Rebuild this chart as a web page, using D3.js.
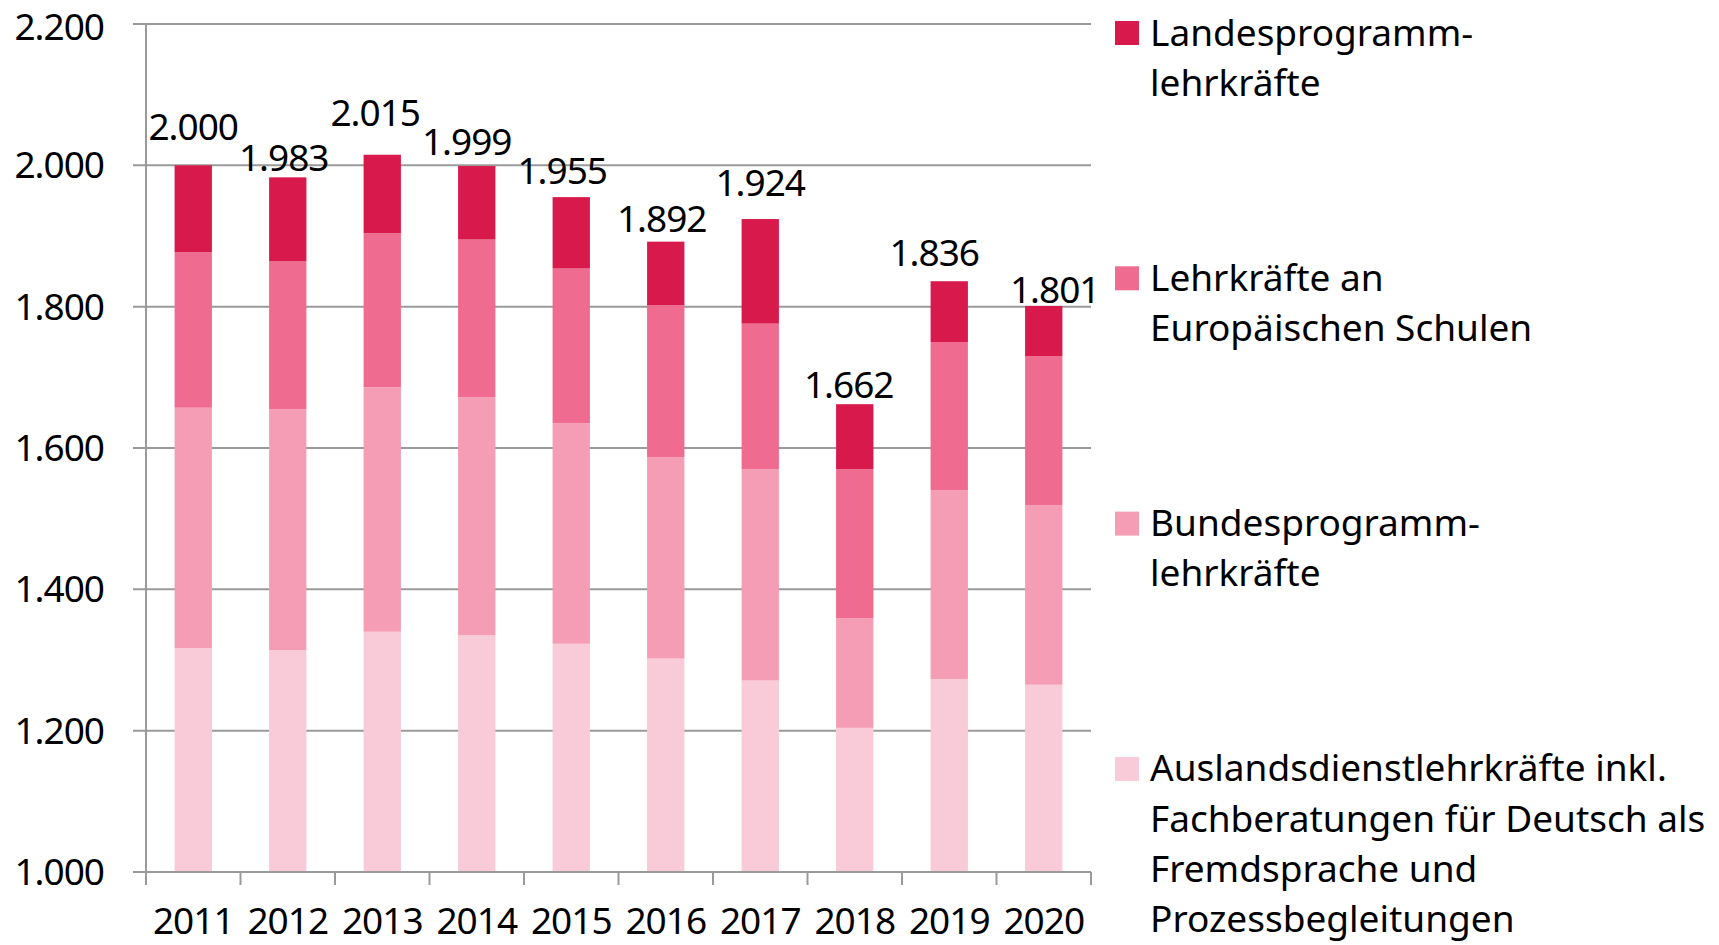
<!DOCTYPE html>
<html lang="de">
<head>
  <meta charset="UTF-8">
  <title>Lehrkräfte im Auslandsschulwesen 2011-2020</title>
  <script src="https://d3js.org/d3.v7.min.js"></script>
  <style>
    body { margin: 0; background: #fff; }
    text { font-family: "Noto Sans", sans-serif; fill: #000; }
  </style>
</head>
<body>
<script>
  // categories and series (stacked bottom to top)
  const years = ['2011', '2012', '2013', '2014', '2015', '2016', '2017', '2018', '2019', '2020'];
  const auslandsdienst = [1317, 1314, 1340, 1335, 1323, 1302, 1271, 1204, 1273, 1265];
  const bundesprogramm = [340, 341, 346, 337, 312, 285, 299, 155, 267, 254];
  const europaeisch = [220, 209, 218, 223, 219, 215, 206, 211, 210, 211];
  const landesprogramm = [123, 119, 111, 104, 101, 90, 148, 92, 86, 71];
  const totals = [2000, 1983, 2015, 1999, 1955, 1892, 1924, 1662, 1836, 1801];
  const yTicks = [1000, 1200, 1400, 1600, 1800, 2000, 2200];

  // hand placement of the total labels, as in the original (px)
  const labelDx = [0, -4, -7, -10, -9, -4, 0, -6, -15, 11];
  const labelGap = [25, 6, 29, 11, 13, 10, 23, 6, 15, 3];

  const keys = ['ausland', 'bundes', 'europa', 'landes'];
  const colors = {
    ausland: '#f9cad8',
    bundes: '#f59db5',
    europa: '#ef6b8f',
    landes: '#d8194c'
  };
  const legendLines = {
    landes: ['Landesprogramm-', 'lehrkräfte'],
    europa: ['Lehrkräfte an', 'Europäischen Schulen'],
    bundes: ['Bundesprogramm-', 'lehrkräfte'],
    ausland: ['Auslandsdienstlehrkräfte inkl.', 'Fachberatungen für Deutsch als', 'Fremdsprache und', 'Prozessbegleitungen']
  };

  const table = years.map((yr, i) => ({
    year: yr,
    ausland: auslandsdienst[i],
    bundes: bundesprogramm[i],
    europa: europaeisch[i],
    landes: landesprogramm[i],
    total: totals[i]
  }));

  const width = 1719;
  const height = 945;
  const plotLeft = 146;
  const plotRight = 1091;
  const plotTop = 24;
  const plotBottom = 872;

  const svg = d3.select('body')
    .append('svg')
    .attr('width', width)
    .attr('height', height);

  const x = d3.scaleBand()
    .domain(years)
    .range([plotLeft, plotRight])
    .paddingInner(0.605)
    .paddingOuter(0.3025);

  const y = d3.scaleLinear()
    .domain([1000, 2200])
    .range([plotBottom, plotTop])
    .clamp(true);

  const fmt = v => d3.format(',')(v).replace(',', '.');

  // gridlines
  svg.append('g')
    .selectAll('line')
    .data(yTicks)
    .join('line')
    .attr('x1', plotLeft - 13)
    .attr('x2', plotRight)
    .attr('y1', d => y(d))
    .attr('y2', d => y(d))
    .attr('stroke', '#9a9a9a')
    .attr('stroke-width', 2);

  // y labels (top one kept inside the page)
  svg.append('g')
    .selectAll('text')
    .data(yTicks)
    .join('text')
    .attr('x', 104)
    .attr('y', d => Math.max(y(d) + 13, 40))
    .attr('text-anchor', 'end')
    .style('font-size', '37px')
    .style('letter-spacing', '-1px')
    .text(d => fmt(d));

  // stacked bars
  const stack = d3.stack().keys(keys);
  const series = stack(table);

  svg.append('g')
    .selectAll('g')
    .data(series)
    .join('g')
    .attr('fill', d => colors[d.key])
    .selectAll('rect')
    .data(d => d)
    .join('rect')
    .attr('x', d => x(d.data.year))
    .attr('width', x.bandwidth())
    .attr('y', d => y(d[1]))
    .attr('height', d => y(d[0]) - y(d[1]));

  // axis lines and ticks
  const step = x.step();
  const boundaries = d3.range(years.length + 1).map(i => plotLeft + i * step);

  svg.append('line')
    .attr('x1', plotLeft).attr('x2', plotLeft)
    .attr('y1', plotTop).attr('y2', plotBottom + 13)
    .attr('stroke', '#9a9a9a').attr('stroke-width', 2);

  svg.append('line')
    .attr('x1', plotLeft).attr('x2', plotRight)
    .attr('y1', plotBottom).attr('y2', plotBottom)
    .attr('stroke', '#9a9a9a').attr('stroke-width', 2);

  svg.append('g')
    .selectAll('line')
    .data(boundaries)
    .join('line')
    .attr('x1', d => d).attr('x2', d => d)
    .attr('y1', plotBottom).attr('y2', plotBottom + 13)
    .attr('stroke', '#9a9a9a').attr('stroke-width', 2);

  // year labels
  svg.append('g')
    .selectAll('text')
    .data(years)
    .join('text')
    .attr('x', d => x(d) + x.bandwidth() / 2)
    .attr('y', 934)
    .attr('text-anchor', 'middle')
    .style('font-size', '37px')
    .style('letter-spacing', '-1px')
    .text(d => d);

  // total labels
  svg.append('g')
    .selectAll('text')
    .data(table)
    .join('text')
    .attr('x', (d, i) => x(d.year) + x.bandwidth() / 2 + labelDx[i])
    .attr('y', (d, i) => y(d.total) - labelGap[i])
    .attr('text-anchor', 'middle')
    .style('font-size', '37px')
    .style('letter-spacing', '-1px')
    .text(d => fmt(d.total));

  // legend
  const legendKeys = ['landes', 'europa', 'bundes', 'ausland'];
  const legend = svg.append('g')
    .selectAll('g')
    .data(legendKeys)
    .join('g')
    .attr('transform', (d, i) => 'translate(1115,' + (21 + i * 245.3) + ')');

  legend.append('rect')
    .attr('width', 24)
    .attr('height', 24)
    .attr('fill', d => colors[d]);

  legend.append('text')
    .attr('x', 35)
    .attr('y', 24.5)
    .style('font-size', '37px')
    .selectAll('tspan')
    .data(d => legendLines[d])
    .join('tspan')
    .attr('x', 35)
    .attr('dy', (d, i) => i === 0 ? 0 : 50.3)
    .text(d => d);
</script>
</body>
</html>
